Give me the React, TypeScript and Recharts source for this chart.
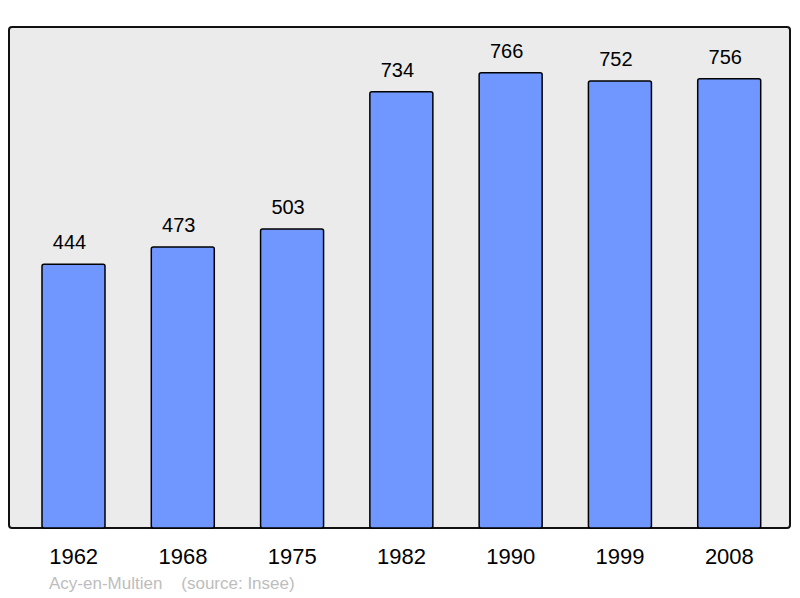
import React from 'react';
import { BarChart, Bar, XAxis, YAxis, LabelList } from 'recharts';

const years = ['1962', '1968', '1975', '1982', '1990', '1999', '2008'];
const population = [444, 473, 503, 734, 766, 752, 756];
const commune = 'Acy-en-Multien';
const source = '(source: Insee)';

const data = years.map((year, i) => ({ year, population: population[i] }));

const font = '"Liberation Sans", Arial, sans-serif';

const App: React.FC = () => {
  return (
    <div style={{ position: 'absolute', left: 0, top: 0, width: 800, height: 598, fontFamily: font }}>
      {/* plot frame behind the svg */}
      <div
        style={{
          position: 'absolute',
          left: 8,
          top: 26,
          width: 779,
          height: 499,
          background: '#ebebeb',
          border: '2px solid #111',
          borderRadius: 4
        }}
      />
      <div style={{ position: 'absolute', left: 0, top: 0 }}>
        <BarChart
          width={800}
          height={598}
          data={data}
          margin={{ top: 27, right: 10, left: 9, bottom: 20 }}
        >
          <XAxis
            dataKey="year"
            axisLine={false}
            tickLine={false}
            height={50}
            padding={{ left: 10, right: 6 }}
            tickMargin={14}
            tick={{ fill: '#000', fontSize: 22, fontFamily: font }}
          />
          <YAxis hide domain={[0, 843]} />
          <Bar
            dataKey="population"
            fill="#7096ff"
            stroke="#000"
            strokeWidth={1.5}
            barSize={63}
            radius={2}
            isAnimationActive={false}
          >
            <LabelList
              dataKey="population"
              position="top"
              offset={15}
              dx={-4}
              fill="#000"
              fontSize={20}
              fontFamily={font}
            />
          </Bar>
        </BarChart>
      </div>
      <div
        style={{
          position: 'absolute',
          left: 49,
          top: 574,
          fontSize: 17,
          color: '#bdbdbd',
          whiteSpace: 'pre'
        }}
      >
        {commune + '    ' + source}
      </div>
    </div>
  );
};

export default App;
